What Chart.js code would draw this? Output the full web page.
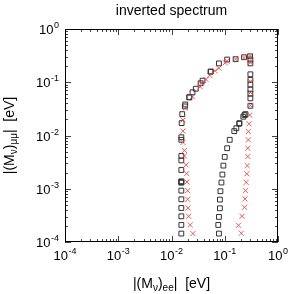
<!DOCTYPE html>
<html>
<head>
<meta charset="utf-8">
<script src="https://cdn.jsdelivr.net/npm/chart.js@4.4.0/dist/chart.umd.min.js"></script>
<style>
  html, body { margin: 0; padding: 0; background: #fff; }
  #wrap { width: 291px; height: 294px; }
</style>
</head>
<body>
<div id="wrap"><canvas id="chart_spectrum"></canvas></div>
<script>
// values (eV)
var squaresX = [0.0153, 0.0153, 0.0153, 0.0153, 0.0153, 0.0153, 0.0153, 0.0153, 0.0153, 0.0153, 0.0153, 0.0153, 0.0153, 0.0153, 0.0155,
  0.0159, 0.0178, 0.0181, 0.0216, 0.0216, 0.0248, 0.0286, 0.0352, 0.0383, 0.0547, 0.0541, 0.0778, 0.111, 0.160, 0.230, 0.299,
  0.303, 0.303, 0.303, 0.303, 0.303, 0.303, 0.303, 0.303, 0.303,
  0.245, 0.235, 0.223, 0.189, 0.187, 0.165, 0.151, 0.124, 0.111, 0.0998, 0.0942, 0.0904, 0.0867, 0.0830, 0.0811, 0.0811, 0.0778, 0.0755, 0.0778];
var squaresY = [0.000144, 0.000209, 0.000304, 0.000435, 0.000634, 0.000922, 0.00130, 0.00134, 0.00138, 0.00225, 0.00341, 0.00413, 0.00829, 0.00927, 0.0171,
  0.0252, 0.0352, 0.0383, 0.0519, 0.0525, 0.0647, 0.0755, 0.0958, 0.107, 0.158, 0.158, 0.226, 0.267, 0.271, 0.295, 0.307,
  0.267, 0.226, 0.141, 0.111, 0.0903, 0.0733, 0.0612, 0.0498, 0.0361,
  0.0252, 0.0242, 0.0225, 0.0171, 0.0166, 0.0137, 0.0121, 0.00829, 0.00577, 0.00396, 0.00272, 0.00185, 0.00131, 0.000899, 0.000625, 0.000430, 0.000296, 0.000209, 0.000144];

var crossesX = [0.0252, 0.0225, 0.0210, 0.0205, 0.0201, 0.0201, 0.0196, 0.0193, 0.0188, 0.0175, 0.0175, 0.0164, 0.0164, 0.0164, 0.0183, 0.0248,
  0.0346, 0.0367, 0.0445, 0.0525, 0.0658, 0.0778, 0.102, 0.110, 0.160, 0.230, 0.303,
  0.303, 0.303, 0.303, 0.303, 0.295, 0.286, 0.278, 0.278, 0.271, 0.271, 0.264, 0.260, 0.253, 0.245, 0.239, 0.235, 0.211, 0.181, 0.205];
var crossesY = [0.000144, 0.000209, 0.000304, 0.000435, 0.000634, 0.000922, 0.00134, 0.00193, 0.00281, 0.00413, 0.00524, 0.00741, 0.0121, 0.0196, 0.0332, 0.0534,
  0.0820, 0.0969, 0.113, 0.134, 0.164, 0.183, 0.233, 0.249, 0.271, 0.290, 0.311,
  0.233, 0.104, 0.0639, 0.0367, 0.0242, 0.0166, 0.0119, 0.00829, 0.00577, 0.00403, 0.00272, 0.00191, 0.00132, 0.000922, 0.000644, 0.000449, 0.000304, 0.000206, 0.000146];

var decadeTicks = [1e-4, 1e-3, 1e-2, 1e-1, 1];
var tickExponents = ['-4', '-3', '-2', '-1', '0'];
var chartTitle = 'inverted spectrum';

var FONT = "'Liberation Sans', Arial, sans-serif";

function toPoints(xs, ys) {
  return xs.map(function (x, i) { return { x: x, y: ys[i] }; });
}

function drawPower(ctx, exp, x, y, align) {
  ctx.font = '13px ' + FONT;
  var w1 = ctx.measureText('10').width;
  ctx.font = '9px ' + FONT;
  var w2 = ctx.measureText(exp).width;
  var total = w1 + w2 + 0.5;
  var x0 = align === 'center' ? x - total / 2 : x - total;
  ctx.textAlign = 'left';
  ctx.textBaseline = 'alphabetic';
  ctx.font = '13px ' + FONT;
  ctx.fillText('10', x0, y);
  ctx.font = '9px ' + FONT;
  ctx.fillText(exp, x0 + w1 + 0.5, y - 6);
}

// text with subscripts, centred on x
function drawRich(ctx, parts, x, y) {
  var total = 0;
  parts.forEach(function (p) { ctx.font = p[1] + 'px ' + FONT; total += ctx.measureText(p[0]).width; });
  var cx = x - total / 2;
  ctx.textAlign = 'left';
  ctx.textBaseline = 'alphabetic';
  parts.forEach(function (p) {
    ctx.font = p[1] + 'px ' + FONT;
    ctx.fillText(p[0], cx, y + p[2]);
    cx += ctx.measureText(p[0]).width;
  });
}

var axesPlugin = {
  id: 'axesPlugin',
  afterDatasetsDraw: function (chart) {
    var ctx = chart.ctx, a = chart.chartArea;
    var sx = chart.scales.x, sy = chart.scales.y;
    ctx.save();
    // tick marks on all four sides
    ctx.strokeStyle = '#444';
    ctx.lineWidth = 1;
    ctx.beginPath();
    for (var k = -4; k <= 0; k++) {
      for (var m = 1; m <= 9; m++) {
        var v = m * Math.pow(10, k);
        if (v > 1.0001) break;
        var len = m === 1 ? 6 : 3;
        var px = Math.round(sx.getPixelForValue(v)) + 0.5;
        ctx.moveTo(px, a.bottom); ctx.lineTo(px, a.bottom - len);
        ctx.moveTo(px, a.top); ctx.lineTo(px, a.top + len);
        var py = Math.round(sy.getPixelForValue(v)) + 0.5;
        ctx.moveTo(a.left, py); ctx.lineTo(a.left + len, py);
        ctx.moveTo(a.right, py); ctx.lineTo(a.right - len, py);
      }
    }
    ctx.stroke();
    // frame
    ctx.strokeStyle = '#000';
    ctx.strokeRect(a.left + 0.5, a.top + 0.5, a.right - a.left - 1, a.bottom - a.top - 1);

    ctx.fillStyle = '#000';
    decadeTicks.forEach(function (v, i) {
      drawPower(ctx, tickExponents[i], sx.getPixelForValue(v), a.bottom + 18, 'center');
      drawPower(ctx, tickExponents[i], a.left - 6, sy.getPixelForValue(v) + 5, 'right');
    });

    // title
    ctx.font = '14px ' + FONT;
    ctx.textAlign = 'center';
    ctx.fillText(chartTitle, (a.left + a.right) / 2, 15);

    // axis titles
    drawRich(ctx, [['|(M', 14, 0], ['\u03bd', 10, 3], [')', 14, 0], ['ee', 10, 3], ['|  [eV]', 14, 0]],
      (a.left + a.right) / 2, 288);
    ctx.translate(14, (a.top + a.bottom) / 2);
    ctx.rotate(-Math.PI / 2);
    drawRich(ctx, [['|(M', 14, 0], ['\u03bd', 10, 3], [')', 14, 0], ['\u03bc\u03bc', 10, 3], ['|  [eV]', 14, 0]], 0, 0);
    ctx.restore();
  }
};

var ctx = document.getElementById('chart_spectrum').getContext('2d');
var myChart = new Chart(ctx, {
  type: 'scatter',
  data: {
    datasets: [{
      label: 'crosses',
      data: toPoints(crossesX, crossesY),
      pointStyle: 'crossRot',
      radius: 3.6,
      borderColor: 'rgba(232, 64, 64, 0.85)',
      backgroundColor: 'rgba(0,0,0,0)',
      borderWidth: 1
    }, {
      label: 'squares',
      data: toPoints(squaresX, squaresY),
      pointStyle: 'rect',
      radius: 3.4,
      borderColor: '#333',
      backgroundColor: 'rgba(0,0,0,0)',
      borderWidth: 1
    }]
  },
  options: {
    responsive: true,
    maintainAspectRatio: false,
    animation: false,
    layout: { padding: { left: 57, top: 29, right: 13, bottom: 44 } },
    plugins: { legend: { display: false }, tooltip: { enabled: false } },
    scales: {
      x: {
        type: 'logarithmic', min: 1e-4, max: 1,
        ticks: { display: false },
        grid: { display: false },
        border: { display: false }
      },
      y: {
        type: 'logarithmic', min: 1e-4, max: 1,
        ticks: { display: false },
        grid: { display: false },
        border: { display: false }
      }
    }
  },
  plugins: [axesPlugin]
});
</script>
</body>
</html>
